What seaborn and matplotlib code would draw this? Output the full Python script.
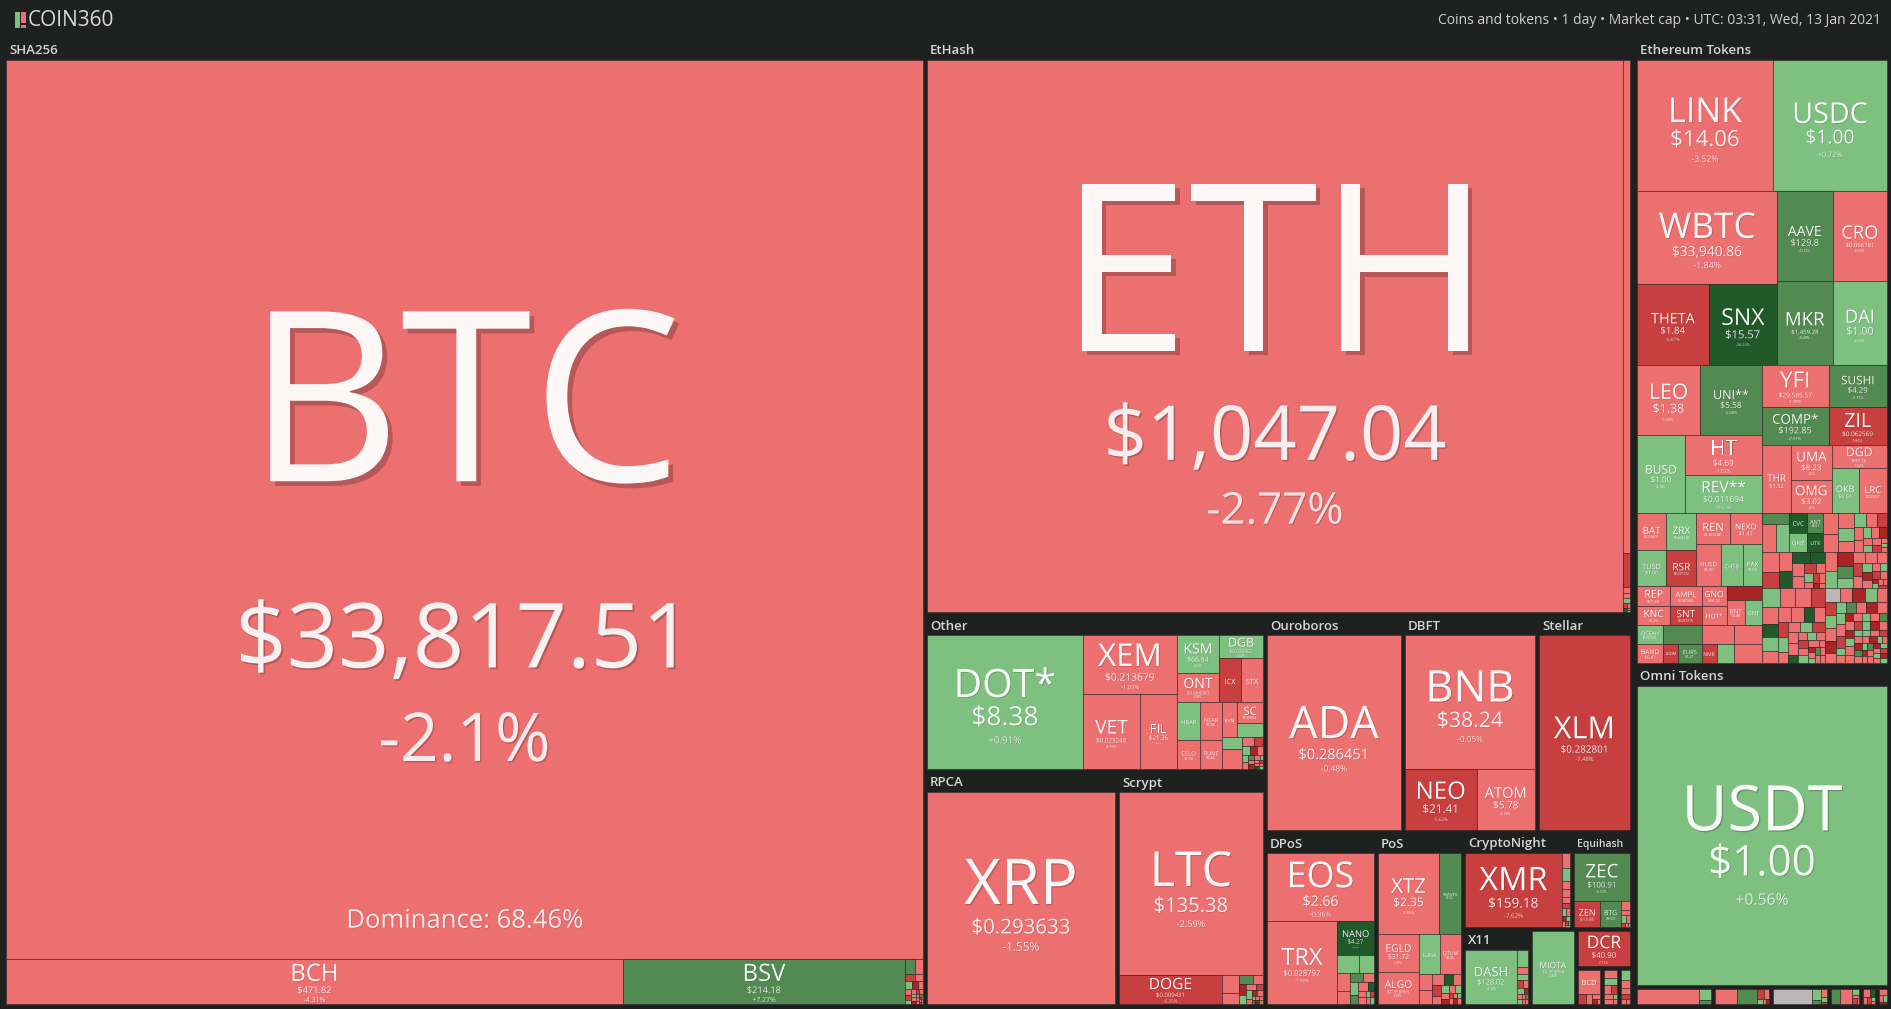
import matplotlib
matplotlib.use("Agg")
import matplotlib.pyplot as plt
import matplotlib.patheffects as pe
from matplotlib.patches import Rectangle
import seaborn as sns

# ---------------- data ----------------
sha_sym = ["BTC", "BCH", "BSV"]
sha_price = ["$33,817.51", "$471.82", "$214.18"]
sha_chg = [-2.1, -4.31, 7.27]
btc_dominance = "68.46%"

eth_sym = ["ETH", "ETC"]
eth_price = ["$1,047.04", "$8.63"]
eth_chg = [-2.77, -4.12]

oth_sym = ["DOT*", "XEM", "VET", "FIL", "KSM", "ONT", "DGB", "ICX", "STX", "HBAR",
           "NEAR", "RVN", "SC", "CELO", "RUNE"]
oth_price = ["$8.38", "$0.213679", "$0.023248", "$21.36", "$66.84", "$0.684360", "$0.025967",
             "$0.648823", "$0.371284", "$0.044127", "$1.58", "$0.027913", "$0.005904", "$1.93", "$1.44"]
oth_chg = [0.91, -1.09, -4.35, -3.21, 2.34, -2.88, 1.62, -6.21, -3.47, 1.95,
           -2.14, -4.02, -3.18, -2.66, -1.73]

alt_sym = ["XRP", "LTC", "DOGE", "ADA", "BNB", "NEO", "ATOM", "XLM", "EOS", "TRX", "NANO",
           "XTZ", "WAVES", "EGLD", "ALGO", "LUNA", "QTUM", "XMR", "ZEC", "ZEN", "BTG", "DASH",
           "MIOTA", "DCR", "BCD", "USDT"]
alt_price = ["$0.293633", "$135.38", "$0.009431", "$0.286451", "$38.24", "$21.41", "$5.78",
             "$0.282801", "$2.66", "$0.028797", "$4.27", "$2.35", "$7.23", "$31.72", "$0.350893",
             "$0.891245", "$3.05", "$159.18", "$100.91", "$13.08", "$9.07", "$128.02", "$0.359854",
             "$40.90", "$0.871349", "$1.00"]
alt_chg = [-1.55, -2.59, -6.35, -0.48, -0.05, -5.62, -3.14, -7.48, -0.96, -1.92, 16.4,
           -3.86, 8.12, -2.41, -3.93, 2.13, -2.82, -7.62, 6.53, -6.21, 7.06, 2.90, 1.84,
           -7.12, -3.27, 0.56]

tok_sym = ["LINK", "USDC", "WBTC", "AAVE", "CRO", "THETA", "SNX", "MKR", "DAI", "LEO",
           "UNI**", "YFI", "SUSHI", "COMP*", "ZIL", "BUSD", "HT", "REV**", "THR", "UMA",
           "OMG", "DGD", "OKB", "LRC", "BAT", "ZRX", "REN", "NEXO", "TUSD", "RSR",
           "HUSD", "CHSB", "PAX", "REP", "AMPL", "GNO", "HOT*", "BNT", "GNT", "KNC",
           "SNT", "OCEAN", "BAND", "LOOM", "EURS", "NMR", "CVC", "GHZ", "ANT", "UTK"]
tok_price = ["$14.06", "$1.00", "$33,940.86", "$129.8", "$0.066781", "$1.84", "$15.57", "$1,459.28",
             "$1.00", "$1.38", "$5.58", "$29,585.57", "$4.29", "$192.85", "$0.062569", "$1.00",
             "$4.69", "$0.011694", "$1.52", "$8.23", "$3.02", "$99.76", "$6.61", "$0.227417",
             "$0.239870", "$0.403318", "$0.361248", "$1.42", "$1.00", "$0.031172", "$1.00",
             "$0.521938", "$1.00", "$17.48", "$0.987542", "$98.12", "$0.000921", "$1.48",
             "$0.219874", "$1.26", "$0.037215", "$0.361024", "$6.47", "$0.049825", "$1.21",
             "$24.37", "$0.107634", "$0.050219", "$2.61", "$0.137846"]
tok_chg = [-3.52, 0.72, -1.84, 12.55, -0.53, -6.07, 16.23, 8.48, 0.46, -0.33,
           6.08, -1.18, 7.76, 7.91, -7.84, 0.14, -1.52, 0.51, -0.92, -2.21,
           -3.37, -1.04, 0.83, -3.12, -2.71, 1.94, -3.18, -1.09, 0.31, -6.52,
           -0.28, 2.47, 0.19, -2.93, -3.31, -1.72, -2.48, -3.62, 1.28, -2.07,
           -5.93, 1.17, -4.21, -5.82, 6.04, -6.31, 18.4, 2.1, 7.2, 21.8]

# small-coin mosaics: relative sizes and change classes
mos_sha_w = [30, 22, 14, 12, 10, 9, 8, 7, 6, 5, 5, 4, 4, 3, 3, 3, 2, 2, 2, 2, 1, 1, 1, 1, 1, 1]
mos_sha_c = "MG LR MR LR LG DR LR LR MR LG LR MR LR LG LR DR LR MG LR LR MR LG LR LR MR LR".split()
mos_ethx_w = [6, 5, 4, 3, 2, 2, 1, 1]
mos_ethx_c = "LR LR LG MR LR DG LR LG".split()
mos_oth_w = [8, 6, 5, 4, 4, 3, 3, 2, 2, 2, 2, 1, 1, 1, 1, 1, 1, 1]
mos_oth_c = "LR MR LG DR LR LG LR MG LR DR LR LG LR MR LR DG LR LG".split()
mos_scr_w = [20, 12, 8, 6, 5, 4, 4, 3, 3, 2, 2, 2, 1, 1, 1, 1, 1, 1]
mos_scr_c = "LR LR MG LR DR LG LR MR LG LR DR LR LG MR LR LR DG LR".split()
mos_dpos_w = [14, 10, 9, 6, 5, 4, 4, 3, 3, 2, 2, 2, 1, 1, 1, 1]
mos_dpos_c = "LG LG LR LR MG LR LG MG LR DG LR LR LG MR LR LG".split()
mos_pos_w = [10, 8, 6, 5, 4, 4, 3, 3, 2, 2, 2, 2, 1, 1, 1, 1, 1, 1]
mos_pos_c = "LR LR LR DG LR MR LR LG LR DR LR LG MR LR LR LG DR LR".split()
mos_cn_w = [12, 10, 7, 6, 5, 4, 3, 3, 2, 2, 2, 1, 1, 1]
mos_cn_c = "LR LG LR LR LR MR LG LR DR LG LR MR LR LG".split()
mos_eq_w = [8, 5, 4, 3, 2, 1, 1]
mos_eq_c = "LR LR LG LR MR LR LG".split()
mos_x11_w = [14, 6, 5, 4, 3, 3, 2, 2, 2, 1, 1, 1, 1]
mos_x11_c = "LG LR LG MR LR LG DR LR LG LR MG LR LR".split()
mos_bcd_w = [6, 4, 3, 2, 1]
mos_bcd_c = "MR LR LR DR LR".split()
mos_s1_w = [5, 4, 3, 3, 2, 2, 1, 1]
mos_s1_c = "LR LG LR MR LR LR LG LR".split()
mos_s2_w = [4, 3, 2, 2, 1, 1]
mos_s2_c = "LG LR LR MR LR LR".split()
mos_e1_w = [10, 9, 8, 7, 6, 6, 5, 5, 4, 4, 3, 3, 3, 2, 2, 2, 2, 1, 1, 1]
mos_e1_c = "LR LR LR LG LR LG LR MR LR LR LG LR DR LR LG LR MR LR LG LR".split()
mos_e2_w = [12, 10, 9, 8, 7, 6, 5, 5, 4, 3, 3, 2, 2, 2, 1, 1]
mos_e2_c = "LR MR LR DG DG DG LR LR MR LR LG LR MR LR DR LR".split()
mos_e3_w = [9, 8, 8, 7, 6, 5, 5, 4, 4, 4, 3, 3, 3, 2, 2, 2, 2, 1, 1, 1, 1, 1]
mos_e3_c = "LR LG DR MG LG LR LR LR MR LR LG DR LR LR LG MR LR DR LG LR LR MR".split()
mos_e4_w = [9, 8, 8, 7, 7, 6, 6, 5, 5, 5, 4, 4, 4, 4, 3, 3, 3, 3, 3, 3, 2, 2, 2, 2, 2, 2,
            2, 2, 1, 1, 1, 1, 1, 1, 1, 1]
mos_e4_c = ("LG LR LR MR LR DG LG LR LR LR DG LR MR LG LR LR LG MR LR LR DG LR LG LR MR LR "
            "LG LR LR DR LR LG MG LR LR LR").split()
mos_e5_w = [6, 5, 5, 5, 4, 4, 4, 4, 4, 3, 3, 3, 3, 3, 3, 3, 3, 3, 2, 2, 2, 2, 2, 2, 2, 2, 2, 2,
            2, 2, 2, 2, 2, 2, 1.5, 1.5, 1.5, 1.5, 1.5, 1.5, 1.5, 1.5, 1.5, 1.5, 1, 1, 1, 1, 1, 1,
            1, 1, 1, 1, 1, 1, 1, 1, 1, 1]
mos_e5_c = ("GY LR DR LG LR MR LG LR DR LR LG MG LR DR LR LG LR MR LG LR DR LR LG LR MG LR DR "
            "LG LR LR MR LG DR LR LG LR DR MG LR LG LR MR LR DR LG LR LG DR LR MG LR LR DR LG "
            "LR MR LG LR DR LG").split()
mos_b2_w = [4, 3, 2, 1, 1]
mos_b2_c = "MR LR LG LR DR".split()
mos_b3_w = [3, 2, 1]
mos_b3_c = "LR LG MR".split()
mos_b4_w = [3, 2, 2, 1]
mos_b4_c = "LG LR MR LR".split()
mos_b5_w = [4, 3, 2, 2, 1, 1]
mos_b5_c = "LR DG LR MR LG LR".split()
mos_b6_w = [3, 2, 2, 1]
mos_b6_c = "LR LR LG DR".split()

header_left = "COIN360"
header_right = "Coins and tokens \u2022 1 day \u2022 Market cap \u2022 UTC: 03:31, Wed, 13 Jan 2021"

# ---------------- style ----------------
BG = "#1f2020"
DPI = 100
sns.set_theme(style="dark", rc={"axes.facecolor": BG, "figure.facecolor": BG})
plt.rcParams["font.family"] = ["Open Sans", "DejaVu Sans"]

codes = ["DR", "MR", "LR", "LG", "MG", "DG", "GY"]
pal = sns.color_palette(["#a92525", "#c83f3f", "#ed7071", "#7ec080", "#528a52", "#22592a", "#bcb5b5"])
TONE = dict(zip(codes, pal))
EDGE = (0.13, 0.13, 0.13, 0.55)
CAPR = 0.714

COINS = {}
for syms, prices, chgs in [(sha_sym, sha_price, sha_chg), (eth_sym, eth_price, eth_chg),
                           (oth_sym, oth_price, oth_chg), (alt_sym, alt_price, alt_chg),
                           (tok_sym, tok_price, tok_chg)]:
    for s, p, c in zip(syms, prices, chgs):
        COINS[s] = (p, c)
DOMINANCE = {"BTC": btc_dominance}


def tone_of(ch):
    if ch >= 15:
        return "DG"
    if ch >= 5:
        return "MG"
    if ch >= 0:
        return "LG"
    if ch > -5:
        return "LR"
    if ch > -10:
        return "MR"
    return "DR"


def fmt_chg(c):
    s = f"{c:+.2f}".rstrip("0").rstrip(".")
    return s + "%"


# ---------------- layout tree (relative sizes) ----------------
def L(sym, w=1): return {"t": "L", "sym": sym, "w": w}
def U(code, w=1): return {"t": "U", "code": code, "w": w}
def M(ws, cs, w=1): return {"t": "M", "ws": ws, "cs": cs, "w": w}
def H(ch, w=1): return {"t": "H", "ch": ch, "w": w}
def V(ch, w=1): return {"t": "V", "ch": ch, "w": w}
def G(label, child, w=1, hdr=True): return {"t": "G", "label": label, "ch": child, "w": w, "hdr": hdr}
def P(child, w, pad): return {"t": "P", "ch": child, "w": w, "pad": pad}


eth_tokens = V([
    H([L("LINK", 135), L("USDC", 113)], 131),
    H([
        V([L("WBTC", 93), H([L("THETA", 71), L("SNX", 68)], 81)], 139),
        V([H([L("AAVE", 55), L("CRO", 54)], 90), H([L("MKR", 55), L("DAI", 54)], 84)], 109),
    ], 174),
    H([
        V([H([L("LEO", 62), L("UNI**", 61)], 70),
           H([L("BUSD", 47), V([L("HT", 40), L("REV**", 38)], 76)], 78)], 124),
        V([H([V([L("YFI", 42), L("COMP*", 38)], 66), V([L("SUSHI", 42), L("ZIL", 38)], 58)], 80),
           H([L("THR", 29), V([L("UMA", 35), L("OMG", 33)], 40),
              V([L("DGD", 23), H([L("OKB", 27), L("LRC", 28)], 45)], 55)], 68)], 124),
    ], 148),
    H([
        V([
            H([V([H([L("BAT", 29), L("ZRX", 30)], 37), H([L("TUSD", 29), L("RSR", 30)], 36)], 59),
               V([H([L("REN", 33), L("NEXO", 32)], 31),
                  H([L("HUSD", 24), L("CHSB", 22), L("PAX", 19)], 42)], 65)], 73),
            H([V([H([L("REP", 33), L("AMPL", 31)], 20), H([L("KNC", 33), L("SNT", 31)], 19)], 64),
               H([V([L("GNO", 20), L("HOT*", 19)], 25),
                  V([U("DR", 14), H([L("BNT", 18), L("GNT", 17)], 25)], 35)], 60)], 39),
            H([V([L("OCEAN", 19), L("BAND", 19)], 26),
               V([U("MG", 19), H([L("LOOM", 15), L("EURS", 23)], 19)], 38),
               V([H([U("LR", 32), U("LR", 28)], 19),
                  H([L("NMR", 15), U("LG", 17), U("LR", 28)], 19)], 60)], 38),
        ], 124),
        V([
            H([V([U("MG", 11), H([U("LR", 14), U("LG", 13)], 28)], 27),
               V([L("CVC", 20), L("GHZ", 19)], 18),
               V([L("ANT", 20), L("UTK", 19)], 16),
               M(mos_e1_w, mos_e1_c, 63)], 39),
            H([M(mos_e2_w, mos_e2_c, 62), M(mos_e3_w, mos_e3_c, 62)], 36),
            H([M(mos_e4_w, mos_e4_c, 62), M(mos_e5_w, mos_e5_c, 62)], 75),
        ], 124),
    ], 150),
])

other = H([
    L("DOT*", 156),
    V([L("XEM", 59), H([L("VET", 57), L("FIL", 37)], 75)], 94),
    V([
        H([V([L("KSM", 37), L("ONT", 29)], 42),
           V([L("DGB", 23), H([L("ICX", 22), L("STX", 22)], 43)], 44)], 67),
        H([V([L("HBAR", 38), L("CELO", 29)], 23),
           V([L("NEAR", 38), L("RUNE", 29)], 22),
           V([H([L("RVN", 15), V([L("SC", 21), U("LG", 14)], 26)], 35),
              H([V([U("LG", 12), U("LR", 20)], 20), M(mos_oth_w, mos_oth_c, 21)], 32)], 41)], 67),
    ], 86),
])

col_a = G("SHA256", V([
    L("BTC", 899),
    H([L("BCH", 617), L("BSV", 282), M(mos_sha_w, mos_sha_c, 18)], 45),
]), 921)

col_b = V([
    G("EtHash", H([L("ETH", 697),
                   V([L("ETC", 493), U("MR", 34), M(mos_ethx_w, mos_ethx_c, 25)], 7)]), 575),
    H([
        V([
            G("Other", other, 157),
            H([G("RPCA", L("XRP"), 192),
               G("Scrypt", V([L("LTC", 182),
                              H([L("DOGE", 103), M(mos_scr_w, mos_scr_c, 41)], 29)]), 148)], 235),
        ], 340),
        V([
            H([G("Ouroboros", L("ADA"), 138),
               G("DBFT", V([L("BNB", 133), H([L("NEO", 71), L("ATOM", 58)], 61)]), 134),
               G("Stellar", L("XLM"), 95)], 218),
            H([
                G("DPoS", V([L("EOS", 67),
                             H([L("TRX", 70),
                                V([L("NANO", 34), M(mos_dpos_w, mos_dpos_c, 48)], 37)], 82)]), 111),
                G("PoS", V([H([L("XTZ", 61), L("WAVES", 22)], 80),
                            H([V([L("EGLD", 37), L("ALGO", 32)], 41),
                               V([H([L("LUNA", 21), L("QTUM", 21)], 39),
                                  M(mos_pos_w, mos_pos_c, 30)], 42)], 69)]), 87),
                V([
                    H([G("CryptoNight", H([L("XMR", 97), M(mos_cn_w, mos_cn_c, 8)]), 109),
                       G("Equihash", V([L("ZEC", 47),
                                        H([L("ZEN", 26), L("BTG", 20), M(mos_eq_w, mos_eq_c, 9)], 25)]), 60)],
                      97),
                    H([G("X11", H([L("DASH", 51), M(mos_x11_w, mos_x11_c, 11)]), 67),
                       G("", L("MIOTA"), 46, hdr=False),
                       V([G("", L("DCR"), 39, hdr=False),
                          H([G("", V([L("BCD", 18), M(mos_bcd_w, mos_bcd_c, 8)]), 26, hdr=False),
                             G("", M(mos_s1_w, mos_s1_c), 17, hdr=False),
                             G("", M(mos_s2_w, mos_s2_c), 13, hdr=False)], 38)], 56)], 77),
                ], 169),
            ], 174),
        ], 367),
    ], 392),
], 707)

col_c = P(V([
    G("Ethereum Tokens", eth_tokens, 626),
    G("Omni Tokens", L("USDT"), 322),
    H([G("", H([U("LR", 62), V([U("LG", 9), U("MG", 3)], 12)]), 78, hdr=False),
       G("", H([U("LR", 22), U("MG", 20), M(mos_b2_w, mos_b2_c, 12)]), 58, hdr=False),
       G("", H([U("GY", 39), V([U("LG", 8), U("MG", 3)], 9), M(mos_b3_w, mos_b3_c, 6)]), 58, hdr=False),
       G("", H([U("MG", 9), U("LR", 12), M(mos_b4_w, mos_b4_c, 7)]), 32, hdr=False),
       G("", M(mos_b5_w, mos_b5_c), 16, hdr=False),
       G("", M(mos_b6_w, mos_b6_c), 12, hdr=False)], 19),
]), 257, (3, 0, 0, 0))

root = H([col_a, col_b, col_c])

# ---------------- drawing ----------------
fig = plt.figure(figsize=(18.91, 10.09), dpi=DPI)
ax = fig.add_axes([0, 0, 1, 1])
ax.set_xlim(0, 1891)
ax.set_ylim(1009, 0)
ax.set_axis_off()
fig.patch.set_facecolor(BG)

HDR = 19
PAD = 2


def squarify(ws, x, y, w, h):
    tot = float(sum(ws))
    areas = [v * w * h / tot for v in ws]
    out = []
    i = 0
    while i < len(areas):
        side = min(w, h)
        if side <= 1e-6:
            break

        def worst(r):
            s = sum(r)
            return max(max(side * side * a / (s * s), s * s / (side * side * a)) for a in r)
        row = [areas[i]]
        j = i + 1
        while j < len(areas) and worst(row + [areas[j]]) <= worst(row):
            row.append(areas[j])
            j += 1
        s = sum(row)
        if w >= h:
            cw = s / h
            yy = y
            for a in row:
                rh = a / cw
                out.append((x, yy, cw, rh))
                yy += rh
            x += cw
            w -= cw
        else:
            rh = s / w
            xx = x
            for a in row:
                rw = a / rh
                out.append((xx, y, rw, rh))
                xx += rw
            y += rh
            h -= rh
        i = j
    return out


def tile(x0, y0, w, h, code):
    ax.add_patch(Rectangle((x0, y0), w, h, facecolor=TONE[code], edgecolor=EDGE, linewidth=0.6))


def cap2pt(cap):
    return cap / CAPR * 72.0 / DPI


def txt(x, y, s, cap, alpha):
    fs = cap2pt(cap)
    effects = []
    if cap > 3:
        d = max(0.35, fs * 0.02)
        effects = [pe.withSimplePatchShadow(offset=(d, -d), shadow_rgbFace="black", alpha=0.22)]
    ax.text(x, y, s.replace("$", r"\$"), ha="center", va="baseline", fontsize=fs,
            color=(1, 1, 1, alpha), path_effects=effects)


def coin(sym, x0, y0, x1, y1):
    w, h = x1 - x0, y1 - y0
    price, ch = COINS[sym]
    ctext = fmt_chg(ch)
    tile(x0, y0, w, h, tone_of(ch))
    cx = (x0 + x1) / 2
    sc = min(0.72 * w / len(sym), 0.38 * h, 170)
    if sc < 2.5:
        return
    avail = 0.85 * h - 1.33 * sc
    pc = max(0.0, min(0.70 * w / len(price), 0.67 * sc, avail / 2.35))
    cc = min(0.27 * w / len(ctext), 0.75 * pc)
    if sym in DOMINANCE:
        txt(cx, y0 + 0.374 * h + sc / 2, sym, sc, 0.96)
        txt(cx, y0 + 0.640 * h + pc / 2, price, pc, 0.92)
        txt(cx, y0 + 0.753 * h + cc / 2, ctext, cc, 0.88)
        dtext = "Dominance: " + DOMINANCE[sym]
        dc = 0.34 * w / len(dtext)
        txt(cx, y0 + 0.955 * h + dc / 2, dtext, dc, 0.88)
        return
    show_p = pc >= 2.0
    show_c = show_p and cc >= 1.5
    block = sc + (0.33 * sc + pc if show_p else 0) + (0.6 * pc + cc if show_c else 0)
    top = (y0 + y1) / 2 + 0.032 * h - block / 2
    base = top + sc
    txt(cx, base, sym, sc, 0.96)
    if show_p:
        base2 = base + 0.33 * sc + pc
        txt(cx, base2, price, pc, 0.9)
        if show_c:
            base3 = base2 + 0.6 * pc + cc
            txt(cx, base3, ctext, cc, 0.82)


def group_label(label, x0, y0, x1):
    avail = x1 - x0 - 10
    fs = 9.5
    est = len(label) * 0.6 * fs * DPI / 72.0
    if est > avail:
        fs *= avail / est
    ax.text(x0 + PAD + 3, y0 + PAD + HDR / 2 + 0.5, label, ha="left", va="center",
            fontsize=fs, color="#d6d6d6", fontweight="semibold")


def layout(n, x0, y0, x1, y1):
    t = n["t"]
    if t in ("H", "V"):
        tot = float(sum(c["w"] for c in n["ch"]))
        pos = x0 if t == "H" else y0
        span = (x1 - x0) if t == "H" else (y1 - y0)
        for c in n["ch"]:
            nxt = pos + span * c["w"] / tot
            if t == "H":
                layout(c, pos, y0, nxt, y1)
            else:
                layout(c, x0, pos, x1, nxt)
            pos = nxt
    elif t == "G":
        has_hdr = n["hdr"] and n["label"]
        if has_hdr:
            group_label(n["label"], x0, y0, x1)
        layout(n["ch"], x0 + PAD, y0 + PAD + (HDR if has_hdr else 0), x1 - PAD, y1 - PAD)
    elif t == "P":
        l, tp, r, b = n["pad"]
        layout(n["ch"], x0 + l, y0 + tp, x1 - r, y1 - b)
    elif t == "L":
        coin(n["sym"], x0, y0, x1, y1)
    elif t == "U":
        tile(x0, y0, x1 - x0, y1 - y0, n["code"])
    elif t == "M":
        for (rx, ry, rw, rh), c in zip(squarify(n["ws"], x0, y0, x1 - x0, y1 - y0), n["cs"]):
            tile(rx, ry, rw, rh, c)


layout(root, 4, 39, 1889, 1006)

# header
ax.add_patch(Rectangle((15, 12), 5, 16, facecolor=TONE["LG"], edgecolor="none"))
ax.add_patch(Rectangle((21, 12), 5, 11, facecolor=TONE["LR"], edgecolor="none"))
ax.add_patch(Rectangle((21, 25), 5, 3, facecolor=TONE["LR"], edgecolor="none"))
ax.text(28, 20.5, header_left, ha="left", va="center", fontsize=15, color="#d8d8d8")
ax.text(1881, 20, header_right, ha="right", va="center", fontsize=10, color="#cfcfcf")

fig.savefig("out.png", dpi=DPI, facecolor=BG)
